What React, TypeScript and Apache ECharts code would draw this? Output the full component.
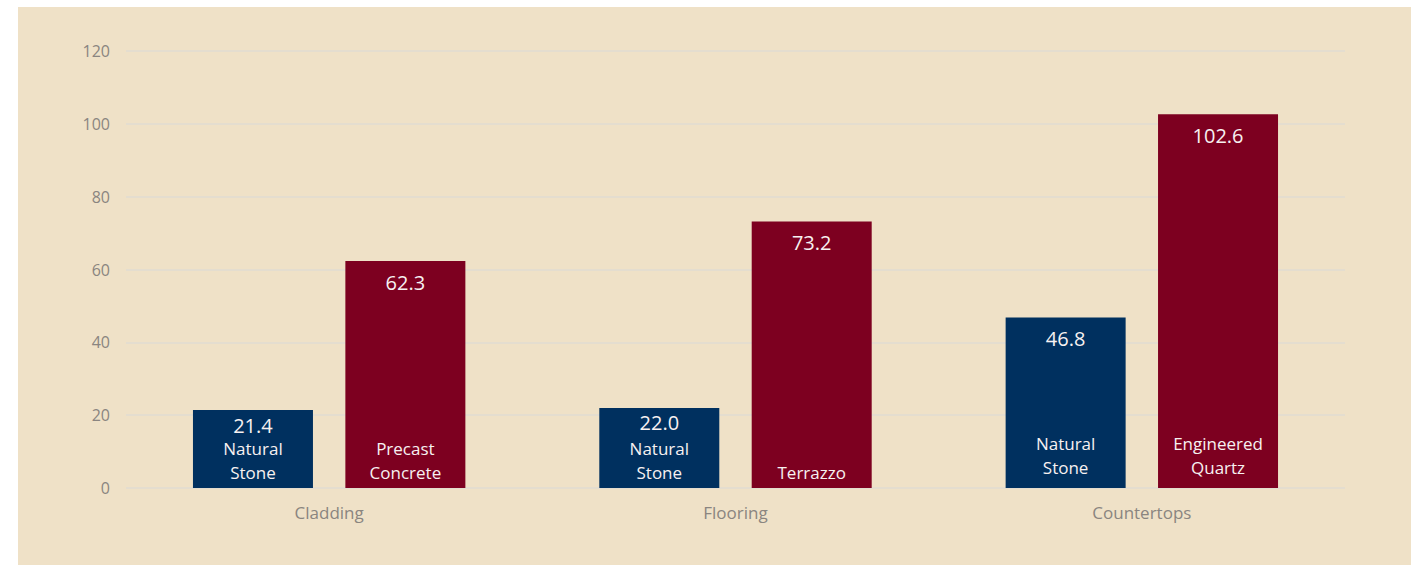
import React, { useEffect, useRef } from "react";
import * as echarts from "echarts";

const categories = ["Cladding", "Flooring", "Countertops"];
const naturalValues = [21.4, 22.0, 46.8];
const altValues = [62.3, 73.2, 102.6];
const naturalNames = ["Natural\nStone", "Natural\nStone", "Natural\nStone"];
const altNames = ["Precast\nConcrete", "Terrazzo", "Engineered\nQuartz"];
const yTicks = { min: 0, max: 120, interval: 20 };

const NAVY = "#00305f";
const MAROON = "#7d0020";
const FONT = "'Open Sans', Lato, sans-serif";

export default function App() {
  const ref = useRef<HTMLDivElement>(null);
  useEffect(() => {
    const chart = echarts.init(ref.current!, null, { renderer: "svg" });
    const barWidth = 120;
    const barGap = "27%";
    const nameItems = (vals: number[]) =>
      vals.map((v, i) => ({
        value: v,
        label: { distance: i === 2 ? 9 : 4 },
      }));
    const nameLabel = (names: string[]) => ({
      show: true,
      position: "insideBottom",
      color: "#f7f1f1",
      fontFamily: FONT,
      fontSize: 17,
      lineHeight: 24,
      formatter: (p: any) => names[p.dataIndex],
    });
    const valueItems = (vals: number[]) =>
      vals.map((v) => ({
        value: v,
        label: { distance: v < 30 ? 5 : 11 },
      }));
    const valueLabel = {
      show: true,
      position: "insideTop",
      color: "#f7f1f1",
      fontFamily: FONT,
      fontSize: 20,
      formatter: (p: any) => Number(p.value).toFixed(1),
    };
    chart.setOption({
      animation: false,
      backgroundColor: "#efe1c7",
      grid: { left: 108, right: 66, top: 44, bottom: 77 },
      xAxis: [
        {
          type: "category",
          data: categories,
          axisLine: { show: false },
          axisTick: { show: false },
          axisLabel: { color: "#8a8580", fontSize: 17, fontFamily: FONT, margin: 16 },
        },
        {
          type: "category",
          data: categories,
          show: false,
          position: "bottom",
        },
      ],
      yAxis: {
        type: "value",
        min: yTicks.min,
        max: yTicks.max,
        interval: yTicks.interval,
        axisLine: { show: false },
        axisTick: { show: false },
        axisLabel: { color: "#8a8580", fontSize: 16, fontFamily: FONT, margin: 16 },
        splitLine: { lineStyle: { color: "#e0dbd2", width: 1.5 } },
      },
      series: [
        {
          type: "bar",
          xAxisIndex: 0,
          data: nameItems(naturalValues),
          barWidth,
          barGap,
          itemStyle: { color: NAVY },
          label: nameLabel(naturalNames),
        },
        {
          type: "bar",
          xAxisIndex: 0,
          data: nameItems(altValues),
          barWidth,
          barGap,
          itemStyle: { color: MAROON },
          label: nameLabel(altNames),
        },
        {
          type: "bar",
          xAxisIndex: 1,
          data: valueItems(naturalValues),
          barWidth,
          barGap,
          itemStyle: { color: "rgba(0,0,0,0)" },
          label: valueLabel,
          silent: true,
        },
        {
          type: "bar",
          xAxisIndex: 1,
          data: valueItems(altValues),
          barWidth,
          barGap,
          itemStyle: { color: "rgba(0,0,0,0)" },
          label: valueLabel,
          silent: true,
        },
      ],
    });
    return () => chart.dispose();
  }, []);
  return (
    <div
      style={{
        position: "fixed",
        left: 0,
        top: 0,
        width: 1411,
        height: 565,
        background: "#ffffff",
      }}
    >
      <div
        ref={ref}
        style={{ position: "absolute", left: 18, top: 7, width: 1393, height: 558 }}
      />
    </div>
  );
}
